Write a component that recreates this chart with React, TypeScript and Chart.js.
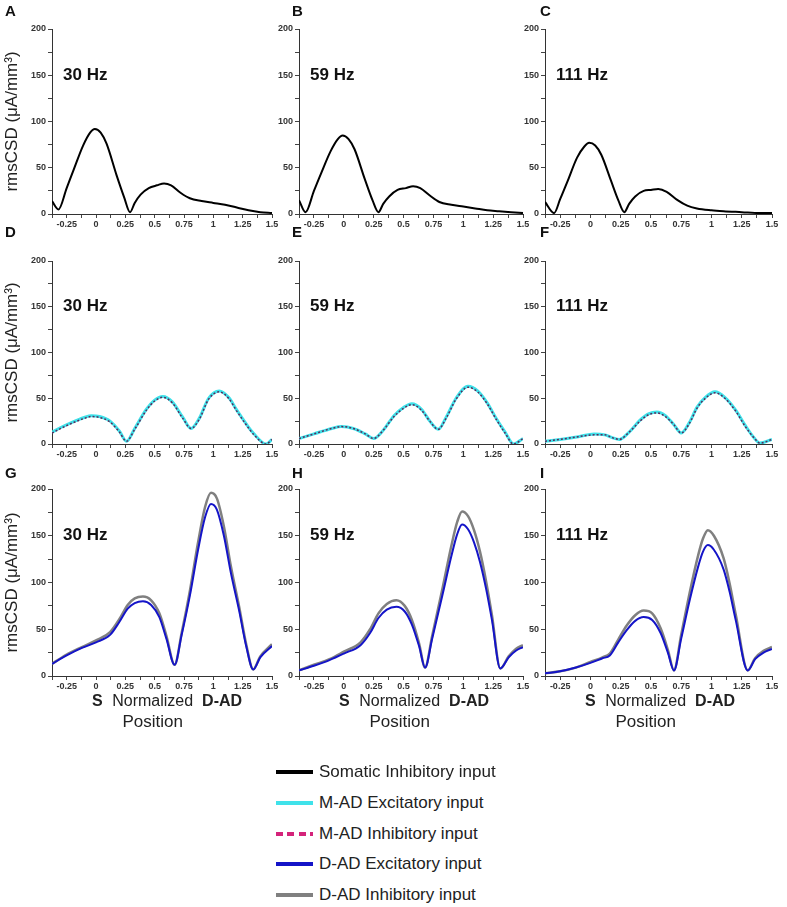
import React, { useRef, useEffect } from 'react';
import Chart from 'chart.js/auto';

const FONT = '"Liberation Sans", Arial, Helvetica, sans-serif';

// ---- data: normalized position (x) and rmsCSD in uA/mm3 (y) ----

// row 1: somatic inhibitory input
const xSomatic30 = [-0.375, -0.32, -0.25, -0.19, -0.11, -0.05, -0.01, 0.04, 0.09, 0.175, 0.24, 0.29, 0.33, 0.38, 0.45, 0.52, 0.58, 0.64, 0.72, 0.8, 0.9, 1.0, 1.1, 1.2, 1.3, 1.4, 1.5];
const somatic30 = [14, 5, 28, 48, 74, 88, 92, 88, 76, 42, 18, 2, 12, 21, 28, 31, 33, 31, 23, 17, 14, 12, 10, 7, 4, 2, 1];
const xSomatic59 = [-0.375, -0.32, -0.25, -0.19, -0.11, -0.05, -0.01, 0.04, 0.09, 0.175, 0.24, 0.29, 0.33, 0.38, 0.45, 0.52, 0.58, 0.64, 0.72, 0.8, 0.9, 1.0, 1.1, 1.2, 1.3, 1.4, 1.5];
const somatic59 = [15, 2, 25, 44, 68, 81, 85, 81, 70, 38, 15, 2, 11, 19, 26, 28, 30, 28, 20, 13, 10, 8, 6, 4, 3, 2, 1];
const xSomatic111 = [-0.375, -0.3, -0.25, -0.19, -0.11, -0.05, -0.01, 0.04, 0.09, 0.17, 0.23, 0.28, 0.32, 0.37, 0.44, 0.5, 0.56, 0.63, 0.72, 0.8, 0.88, 1.0, 1.1, 1.25, 1.4, 1.5];
const somatic111 = [13, 1, 16, 35, 61, 73, 77, 74, 64, 36, 15, 2, 11, 19, 25, 26, 27, 24, 15, 9, 6, 4, 3, 2, 1, 1];

// row 2: M-AD excitatory / inhibitory input
const xMad30 = [-0.375, -0.3, -0.2, -0.1, -0.04, 0.03, 0.12, 0.2, 0.26, 0.33, 0.43, 0.5, 0.57, 0.65, 0.74, 0.81, 0.88, 0.96, 1.05, 1.13, 1.2, 1.28, 1.34, 1.45, 1.5];
const madExc30 = [13, 18, 24, 29, 31, 30, 25, 14, 3, 17, 38, 48, 52, 46, 29, 17, 28, 50, 58, 51, 37, 22, 12, 0, 5];
const madInh30 = [12, 17, 23, 28, 30, 29, 24, 13, 3, 16, 37, 47, 51, 45, 28, 17, 27, 49, 57, 50, 36, 21, 11, 0, 5];
const xMad59 = [-0.375, -0.25, -0.1, -0.02, 0.08, 0.18, 0.25, 0.33, 0.42, 0.5, 0.57, 0.65, 0.72, 0.79, 0.86, 0.94, 1.04, 1.12, 1.2, 1.28, 1.35, 1.42, 1.5];
const madExc59 = [6, 11, 17, 19, 17, 11, 6, 15, 31, 40, 44, 38, 25, 16, 30, 50, 63, 58, 45, 27, 13, 0, 6];
const madInh59 = [6, 11, 17, 19, 17, 11, 6, 15, 30, 39, 43, 37, 25, 16, 29, 49, 62, 57, 44, 26, 12, 0, 6];
const xMad111 = [-0.375, -0.25, -0.1, 0.03, 0.12, 0.18, 0.24, 0.32, 0.41, 0.48, 0.55, 0.62, 0.69, 0.75, 0.82, 0.88, 0.95, 1.03, 1.11, 1.2, 1.28, 1.35, 1.4, 1.5];
const madExc111 = [3, 5, 8, 11, 10, 7, 5, 13, 26, 33, 35, 31, 21, 12, 24, 40, 51, 57, 51, 37, 20, 7, 1, 5];
const madInh111 = [3, 5, 8, 10, 10, 7, 5, 13, 25, 32, 34, 30, 21, 12, 23, 39, 50, 56, 50, 36, 19, 7, 1, 5];

// row 3: D-AD excitatory / inhibitory input
const xDad30 = [-0.375, -0.25, -0.12, 0, 0.12, 0.2, 0.27, 0.33, 0.4, 0.47, 0.54, 0.6, 0.67, 0.73, 0.8, 0.87, 0.93, 0.98, 1.03, 1.09, 1.15, 1.22, 1.28, 1.34, 1.4, 1.5];
const dadExc30 = [13, 22, 30, 36, 44, 58, 72, 78, 80, 76, 63, 40, 12, 44, 86, 135, 170, 184, 178, 150, 110, 70, 32, 7, 20, 32];
const dadInh30 = [13, 23, 31, 38, 47, 61, 76, 83, 85, 81, 67, 43, 12, 46, 91, 143, 181, 196, 190, 160, 117, 74, 34, 7, 21, 34];
const xDad59 = [-0.375, -0.25, -0.12, 0, 0.14, 0.22, 0.29, 0.36, 0.44, 0.51, 0.57, 0.63, 0.68, 0.74, 0.83, 0.9, 0.95, 0.99, 1.04, 1.09, 1.14, 1.19, 1.24, 1.31, 1.38, 1.44, 1.5];
const dadExc59 = [6, 11, 17, 24, 33, 46, 62, 71, 74, 69, 55, 32, 9, 40, 89, 128, 152, 162, 157, 143, 122, 94, 60, 8, 20, 27, 31];
const dadInh59 = [6, 12, 18, 26, 36, 50, 67, 77, 81, 75, 60, 35, 9, 43, 96, 139, 165, 176, 171, 156, 133, 102, 65, 8, 21, 29, 33];
const xDad111 = [-0.375, -0.25, -0.12, 0, 0.1, 0.16, 0.23, 0.3, 0.37, 0.44, 0.51, 0.58, 0.64, 0.69, 0.75, 0.82, 0.89, 0.93, 0.97, 1.02, 1.1, 1.15, 1.2, 1.3, 1.36, 1.43, 1.5];
const dadExc111 = [3, 5, 9, 14, 19, 22, 36, 49, 59, 63, 60, 46, 25, 6, 40, 81, 117, 133, 140, 135, 114, 90, 60, 6, 18, 25, 29];
const dadInh111 = [3, 5, 9, 15, 20, 24, 39, 54, 65, 70, 67, 51, 28, 6, 44, 89, 129, 147, 156, 150, 126, 99, 66, 6, 19, 27, 31];

const panelLetters = ['A', 'B', 'C', 'D', 'E', 'F', 'G', 'H', 'I'];
const frequencies = ['30 Hz', '59 Hz', '111 Hz'];
const legendLabels = ['Somatic Inhibitory input', 'M-AD Excitatory input', 'M-AD Inhibitory input', 'D-AD Excitatory input', 'D-AD Inhibitory input'];

// ---- layout ----
const COL_LEFT = [0, 262, 510];
const COL_W = [287, 276, 277];
const PLOT_L = [52, 299, 545];
const PLOT_R = [272, 523, 772];
const ROW_TOP = [0, 222, 460];
const ROW_H = [240, 248, 280];
const PLOT_T = [29, 261, 489];
const PLOT_B = [214, 444, 676];
const LETTER_X = [5, 292, 540];
const LETTER_Y = [12, 233, 474];
const Y_AXIS_W = 30;
const X_AXIS_H = 20;

const COLORS = {
  somatic: '#000000',
  madExc: '#3fe2ea',
  madInh: '#d4237a',
  madInhPlot: '#5a2a5c',
  dadExc: '#1414c8',
  dadInh: '#808080',
};

interface Line {
  xs: number[];
  ys: number[];
  color: string;
  width: number;
  dash?: number[];
}

interface PanelProps {
  col: number;
  row: number;
  lines: Line[];
}

const Panel: React.FC<PanelProps> = ({ col, row, lines }) => {
  const canvasRef = useRef<HTMLCanvasElement>(null);
  const left = COL_LEFT[col];
  const top = ROW_TOP[row];
  const width = COL_W[col];
  const height = ROW_H[row];

  useEffect(() => {
    if (!canvasRef.current) return;
    const ctx = canvasRef.current.getContext('2d');
    if (!ctx) return;

    const extras = {
      id: 'panelExtras',
      afterDraw(chart: any) {
        const c = chart.ctx;
        const area = chart.chartArea;
        c.save();
        c.fillStyle = '#111';
        c.textBaseline = 'middle';

        // panel letter
        c.textAlign = 'left';
        c.font = `bold 15px ${FONT}`;
        c.fillText(panelLetters[row * 3 + col], LETTER_X[col] - left, LETTER_Y[row] - top);

        // frequency label
        c.font = `bold 17px ${FONT}`;
        c.fillText(frequencies[col], area.left + 11, chart.scales.y.getPixelForValue(150));

        // y axis title, first column only
        if (col === 0) {
          c.save();
          c.translate(12, (area.top + area.bottom) / 2);
          c.rotate(-Math.PI / 2);
          c.textAlign = 'center';
          c.font = `17px ${FONT}`;
          c.fillStyle = '#222';
          c.fillText('rmsCSD (\u03bcA/mm\u00b3)', 0, 0);
          c.restore();
        }

        // x axis title, last row only
        if (row === 2) {
          const y1 = 702 - top;
          let x = area.left + 40;
          c.fillStyle = '#222';
          c.font = `bold 16px ${FONT}`;
          c.fillText('S', x, y1);
          x += c.measureText('S').width + 9.5;
          c.font = `16px ${FONT}`;
          const normW = c.measureText('Normalized').width;
          c.fillText('Normalized', x, y1);
          const normCenter = x + normW / 2;
          x += normW + 9;
          c.font = `bold 16px ${FONT}`;
          c.fillText('D-AD', x, y1);
          c.textAlign = 'center';
          c.font = `17px ${FONT}`;
          c.fillText('Position', normCenter, 722 - top);
        }
        c.restore();
      },
    };

    const chart = new Chart(ctx, {
      type: 'line',
      data: {
        // later entries in the list are drawn on top
        datasets: lines.map((l, i) => ({
          data: l.xs.map((x, j) => ({ x, y: l.ys[j] })),
          borderColor: l.color,
          borderWidth: l.width,
          borderDash: l.dash || [],
          pointRadius: 0,
          fill: false,
          order: lines.length - i,
          cubicInterpolationMode: 'monotone' as const,
        })),
      },
      options: {
        animation: false,
        responsive: false,
        layout: {
          padding: {
            left: PLOT_L[col] - left - Y_AXIS_W,
            right: left + width - PLOT_R[col],
            top: PLOT_T[row] - top,
            bottom: top + height - PLOT_B[row] - X_AXIS_H,
          },
        },
        plugins: {
          legend: { display: false },
          tooltip: { enabled: false },
        },
        scales: {
          x: {
            type: 'linear',
            min: -0.375,
            max: 1.5,
            afterFit: (s: any) => {
              s.height = X_AXIS_H;
            },
            border: { display: true, color: '#333', width: 1 },
            grid: { drawOnChartArea: false, drawTicks: true, tickLength: 4, color: '#444' },
            ticks: {
              stepSize: 0.125,
              autoSkip: false,
              maxRotation: 0,
              padding: 1,
              color: '#333',
              font: { family: FONT, size: 9, weight: 'bold' },
              callback: (v: any) => {
                const n = Number(v);
                const q = n / 0.25;
                return Math.abs(q - Math.round(q)) < 1e-6 && n > -0.3 ? String(n) : '';
              },
            },
          },
          y: {
            min: 0,
            max: 200,
            afterFit: (s: any) => {
              s.width = Y_AXIS_W;
            },
            border: { display: true, color: '#333', width: 1 },
            grid: { drawOnChartArea: false, drawTicks: true, tickLength: 4, color: '#444' },
            ticks: {
              stepSize: 25,
              autoSkip: false,
              padding: 2,
              color: '#333',
              font: { family: FONT, size: 9, weight: 'bold' },
              callback: (v: any) => (Number(v) % 50 === 0 ? String(v) : ''),
            },
          },
        },
      },
      plugins: [extras],
    });

    return () => {
      chart.destroy();
    };
  }, [col, row, lines, left, top, width, height]);

  return (
    <canvas
      ref={canvasRef}
      width={width}
      height={height}
      style={{ position: 'absolute', left, top, width, height }}
    />
  );
};

const madDash = [2, 2];

const rows: Line[][][] = [
  [
    [{ xs: xSomatic30, ys: somatic30, color: COLORS.somatic, width: 2 }],
    [{ xs: xSomatic59, ys: somatic59, color: COLORS.somatic, width: 2 }],
    [{ xs: xSomatic111, ys: somatic111, color: COLORS.somatic, width: 2 }],
  ],
  [
    [
      { xs: xMad30, ys: madExc30, color: COLORS.madExc, width: 3 },
      { xs: xMad30, ys: madInh30, color: COLORS.madInhPlot, width: 1.5, dash: madDash },
    ],
    [
      { xs: xMad59, ys: madExc59, color: COLORS.madExc, width: 3 },
      { xs: xMad59, ys: madInh59, color: COLORS.madInhPlot, width: 1.5, dash: madDash },
    ],
    [
      { xs: xMad111, ys: madExc111, color: COLORS.madExc, width: 3 },
      { xs: xMad111, ys: madInh111, color: COLORS.madInhPlot, width: 1.5, dash: madDash },
    ],
  ],
  [
    [
      { xs: xDad30, ys: dadInh30, color: COLORS.dadInh, width: 2.5 },
      { xs: xDad30, ys: dadExc30, color: COLORS.dadExc, width: 2 },
    ],
    [
      { xs: xDad59, ys: dadInh59, color: COLORS.dadInh, width: 2.5 },
      { xs: xDad59, ys: dadExc59, color: COLORS.dadExc, width: 2 },
    ],
    [
      { xs: xDad111, ys: dadInh111, color: COLORS.dadInh, width: 2.5 },
      { xs: xDad111, ys: dadExc111, color: COLORS.dadExc, width: 2 },
    ],
  ],
];

const legendSwatches = [
  { color: COLORS.somatic, dashed: false },
  { color: COLORS.madExc, dashed: false },
  { color: COLORS.madInh, dashed: true },
  { color: COLORS.dadExc, dashed: false },
  { color: COLORS.dadInh, dashed: false },
];
const LEGEND_Y = [772, 803, 834, 864, 895];

const Legend: React.FC = () => (
  <>
    {legendLabels.map((label, i) => {
      const sw = legendSwatches[i];
      return (
        <div
          key={label}
          style={{
            position: 'absolute',
            left: 276,
            top: LEGEND_Y[i] - 11,
            height: 22,
            display: 'flex',
            alignItems: 'center',
            whiteSpace: 'nowrap',
          }}
        >
          <div
            style={{
              width: 37,
              height: 4,
              marginRight: 6,
              background: sw.dashed
                ? `repeating-linear-gradient(to right, ${sw.color} 0px, ${sw.color} 7px, transparent 7px, transparent 11.5px)`
                : sw.color,
            }}
          />
          <span style={{ fontFamily: FONT, fontSize: 17, color: '#222' }}>{label}</span>
        </div>
      );
    })}
  </>
);

export default function App() {
  return (
    <div
      style={{
        position: 'absolute',
        left: 0,
        top: 0,
        width: 787,
        height: 907,
        background: '#ffffff',
        overflow: 'hidden',
      }}
    >
      {rows.map((panels, r) =>
        panels.map((lines, c) => <Panel key={`${r}-${c}`} col={c} row={r} lines={lines} />)
      )}
      <Legend />
    </div>
  );
}
